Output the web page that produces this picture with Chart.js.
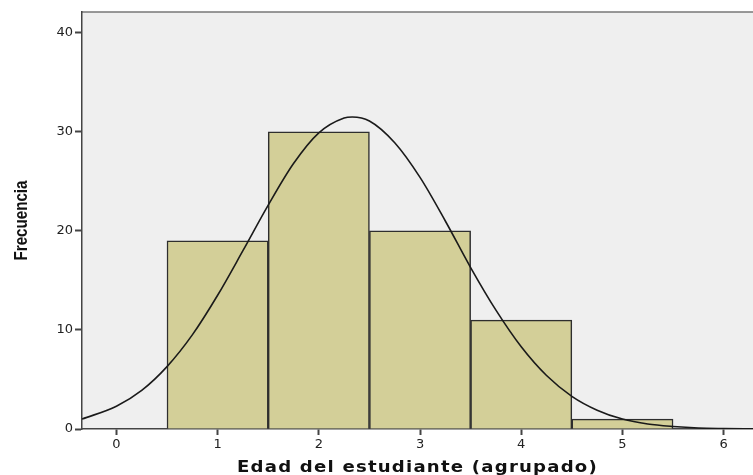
<!DOCTYPE html>
<html>
<head>
<meta charset="utf-8">
<script src="https://cdn.jsdelivr.net/npm/chart.js@4.4.1/dist/chart.umd.min.js"></script>
<style>
  html, body { margin: 0; padding: 0; background: #fff; }
  #wrap { width: 753px; height: 475px; position: relative; }
</style>
</head>
<body>
<div id="wrap"><canvas id="histChart"></canvas></div>
<script>
// histogram bins (grouped age) and their counts
const ageGroups = [1, 2, 3, 4, 5];
const frequencies = [19, 30, 20, 11, 1];

// normal curve
const curveX = [-0.34, 0, 0.25, 0.5, 0.75, 1, 1.25, 1.5, 1.75, 2, 2.25, 2.33, 2.5, 2.75, 3, 3.25, 3.5, 3.75, 4, 4.25, 4.5, 4.75, 5, 5.25, 5.5, 5.75, 6, 6.3];
const curveY = [1.0, 2.3, 3.9, 6.3, 9.5, 13.5, 18.0, 22.6, 26.8, 29.9, 31.4, 31.5, 31.1, 28.9, 25.4, 21.0, 16.3, 12.0, 8.3, 5.4, 3.3, 1.9, 1.0, 0.5, 0.25, 0.1, 0.05, 0.02];

const yTicks = [0, 10, 20, 30, 40];
const xTicks = [0, 1, 2, 3, 4, 5, 6];
const xTitle = "Edad del estudiante (agrupado)";
const yTitle = "Frecuencia";

const plotBackground = {
  id: "plotBackground",
  beforeDraw(chart) {
    const { ctx, chartArea: a } = chart;
    ctx.save();
    ctx.fillStyle = "#efefef";
    ctx.fillRect(a.left, a.top, a.right - a.left, a.bottom - a.top);
    ctx.strokeStyle = "#777";
    ctx.lineWidth = 1.5;
    ctx.beginPath();
    ctx.moveTo(a.left, a.top);
    ctx.lineTo(a.right, a.top);
    ctx.stroke();
    ctx.restore();
  },
};

// SPSS style axis titles: stretched x title, condensed y title
const axisTitles = {
  id: "axisTitles",
  afterDraw(chart) {
    const { ctx, chartArea: a } = chart;
    ctx.save();
    ctx.fillStyle = "#111";
    ctx.textAlign = "center";
    ctx.textBaseline = "alphabetic";

    ctx.save();
    ctx.font = "bold 15px 'DejaVu Sans'";
    ctx.letterSpacing = "1px";
    const xw = ctx.measureText(xTitle).width;
    ctx.translate((a.left + a.right) / 2, 472);
    ctx.scale(361 / xw, 1);
    ctx.fillText(xTitle, 0, 0);
    ctx.restore();

    ctx.font = "bold 19px 'Liberation Sans'";
    const w = ctx.measureText(yTitle).width;
    ctx.translate(27, (a.top + a.bottom) / 2);
    ctx.rotate(-Math.PI / 2);
    ctx.scale(80 / w, 1);
    ctx.fillText(yTitle, 0, 0);
    ctx.restore();
  },
};

const ctx = document.getElementById("histChart").getContext("2d");
new Chart(ctx, {
  data: {
    datasets: [
      {
        type: "line",
        data: curveX.map((x, i) => ({ x: x, y: curveY[i] })),
        borderColor: "#1a1a1a",
        borderWidth: 1.6,
        pointRadius: 0,
        fill: false,
        cubicInterpolationMode: "monotone",
        order: 0,
      },
      {
        type: "bar",
        data: ageGroups.map((g, i) => ({ x: g, y: frequencies[i] })),
        backgroundColor: "#d3cf98",
        borderColor: "#2e2e2e",
        borderWidth: 1.5,
        barPercentage: 1,
        categoryPercentage: 1,
        grouped: false,
        order: 1,
      },
    ],
  },
  options: {
    responsive: true,
    maintainAspectRatio: false,
    animation: false,
    layout: { padding: { top: 12, right: 0, left: 0, bottom: 0 } },
    plugins: { legend: { display: false }, tooltip: { enabled: false } },
    scales: {
      x: {
        type: "linear",
        min: -0.34,
        max: 6.29,
        offset: false,
        afterBuildTicks: (s) => { s.ticks = xTicks.map((v) => ({ value: v })); },
        afterFit: (s) => { s.height = 46; },
        border: { display: true, color: "#444", width: 1.5 },
        grid: { offset: false, drawOnChartArea: false, drawTicks: true, tickLength: 6, tickColor: "#444", tickWidth: 2 },
        ticks: { color: "#222", padding: 2, font: { family: "DejaVu Sans", size: 13 } },
      },
      y: {
        min: 0,
        max: 42.1,
        afterBuildTicks: (s) => { s.ticks = yTicks.map((v) => ({ value: v })); },
        afterFit: (s) => { s.width = 82; },
        border: { display: true, color: "#444", width: 1.5 },
        grid: { drawOnChartArea: false, drawTicks: true, tickLength: 7, tickColor: "#444", tickWidth: 2 },
        ticks: { color: "#222", padding: 2, font: { family: "DejaVu Sans", size: 13 } },
      },
    },
  },
  plugins: [plotBackground, axisTitles],
});
</script>
</body>
</html>
